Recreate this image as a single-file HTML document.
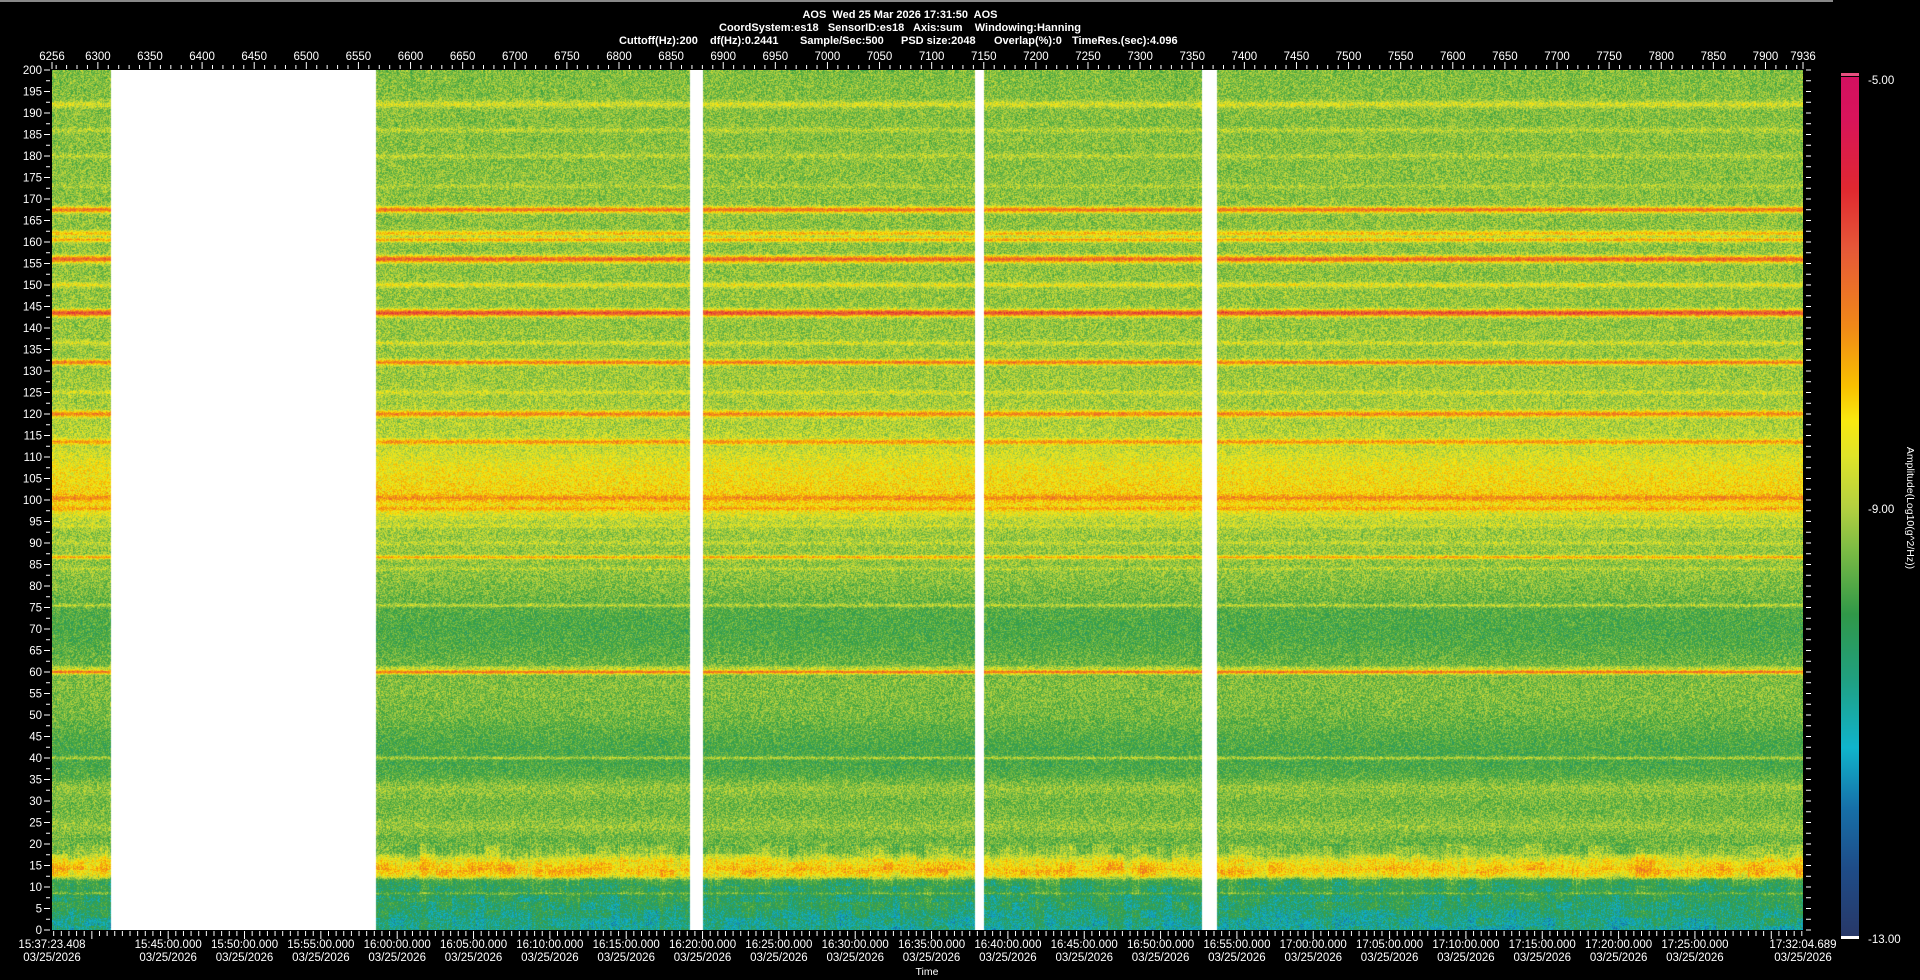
<!DOCTYPE html>
<html><head><meta charset="utf-8">
<style>
html,body{margin:0;padding:0;background:#000;width:1920px;height:980px;overflow:hidden}
#wrap{position:relative;width:1920px;height:980px;background:#000;font-family:"Liberation Sans",Arial,sans-serif}
#spec{position:absolute;left:52px;top:70px}
#ov{position:absolute;left:0;top:0}
#ov text{white-space:pre}
#cbar{position:absolute;left:1841px;top:77px;width:18px;height:860px;
background:linear-gradient(to top,#283868 0%,#1e4c88 8%,#1670a8 15%,#10b4cc 22%,#20a080 30%,#309848 37.5%,#7cbc44 45%,#b4d040 50%,#e0e428 56%,#f8e810 60%,#f8c000 64%,#f08818 71%,#e65838 80%,#e02830 87%,#d8145a 95%,#d41060 100%)}
</style></head>
<body>
<div id="wrap">
<canvas id="spec" width="1751" height="860"></canvas>
<div id="cbar"></div>
<svg id="ov" width="1920" height="980"></svg>
</div>
<script>
// ---- data ----
const freqMin = 0, freqMax = 200;
const idxMin = 6256, idxMax = 7936;
const tStartLabel = "15:37:23.408", tEndLabel = "17:32:04.689";
const tStartSec = 56243.408, tEndSec = 63124.689;
const profileFreqs = [0,3,6,10,11.5,12.5,14,16,18,21,24,27,30,33,36,40,45,50,55,58,62,66,70,74,78,82,88,94,97,100,104,108,112,118,125,135,150,170,185,200];
const profileLevels = [-10.9,-10.7,-10.4,-10.3,-10.0,-8.3,-7.8,-8.3,-9.3,-9.6,-9.2,-9.5,-9.5,-9.2,-9.8,-10.0,-9.8,-9.5,-9.4,-9.4,-9.6,-9.8,-9.9,-9.8,-9.5,-9.3,-9.2,-9.1,-8.5,-8.0,-8.2,-8.4,-8.8,-9.0,-9.1,-9.2,-9.25,-9.3,-9.35,-9.4];
const lineFreqs = [192,186,180,173,167.5,162,160.5,156,150,143.5,136.5,132,125,120,113.5,107,103,100.5,98,94,90,86.7,84,75.5,61,60,40,8.5];
const lineLevels = [-8.6,-8.9,-8.9,-9.0,-7.0,-7.8,-7.6,-6.8,-8.4,-6.5,-8.6,-7.1,-8.6,-7.2,-7.4,-8.3,-8.2,-7.3,-7.6,-8.7,-8.8,-7.6,-8.9,-8.9,-8.9,-7.0,-9.0,-9.6];
const lineWidths = [0.8,0.6,0.6,0.5,0.7,0.6,0.5,0.8,0.6,0.8,0.5,0.6,0.5,0.7,0.6,0.5,0.5,0.6,0.5,0.5,0.4,0.4,0.4,0.4,0.4,0.5,0.4,0.3];
const gapStarts = [6312.6, 6868, 7141.5, 7359.3];
const gapEnds = [6567, 6880.6, 7150, 7373.7];
const yTicks = [0,5,10,15,20,25,30,35,40,45,50,55,60,65,70,75,80,85,90,95,100,105,110,115,120,125,130,135,140,145,150,155,160,165,170,175,180,185,190,195,200];
const topLabels = [6256,6300,6350,6400,6450,6500,6550,6600,6650,6700,6750,6800,6850,6900,6950,7000,7050,7100,7150,7200,7250,7300,7350,7400,7450,7500,7550,7600,7650,7700,7750,7800,7850,7900,7936];
const timeLabels = ["15:45:00.000","15:50:00.000","15:55:00.000","16:00:00.000","16:05:00.000","16:10:00.000","16:15:00.000","16:20:00.000","16:25:00.000","16:30:00.000","16:35:00.000","16:40:00.000","16:45:00.000","16:50:00.000","16:55:00.000","17:00:00.000","17:05:00.000","17:10:00.000","17:15:00.000","17:20:00.000","17:25:00.000"];
const cbarMin = -13, cbarMax = -5;

// ---- axes ----
const PL=52, PR=1803, PT=70, PB=930;
function xIdx(v){return PL+(v-idxMin)/(idxMax-idxMin)*(PR-PL);}
function yF(f){return PB-(f-freqMin)/(freqMax-freqMin)*(PB-PT);}
function xT(s){return PL+(s-tStartSec)/(tEndSec-tStartSec)*(PR-PL);}
function toSec(s){const p=s.split(':');return +p[0]*3600+ +p[1]*60+ +p[2];}

// ---- colormap ----
const cmT=[0,.08,.15,.22,.30,.375,.45,.50,.56,.60,.64,.71,.80,.87,.95,1];
const cmC=[[40,56,104],[30,76,136],[22,112,168],[16,180,204],[36,156,110],[60,160,64],[124,188,68],[180,208,64],[224,228,40],[248,232,16],[248,192,0],[240,136,24],[230,88,56],[224,40,48],[216,20,90],[212,16,96]];
function cmap(v){let t=(v-cbarMin)/(cbarMax-cbarMin);t=Math.max(0,Math.min(1,t));
 let i=0;while(i<cmT.length-2&&t>cmT[i+1])i++;const u=(t-cmT[i])/(cmT[i+1]-cmT[i]);
 const a=cmC[i],b=cmC[i+1];return [a[0]+(b[0]-a[0])*u,a[1]+(b[1]-a[1])*u,a[2]+(b[2]-a[2])*u];}
function interp(f){let i=0;while(i<profileFreqs.length-2&&f>profileFreqs[i+1])i++;
 const u=(f-profileFreqs[i])/(profileFreqs[i+1]-profileFreqs[i]);return profileLevels[i]+(profileLevels[i+1]-profileLevels[i])*Math.max(0,Math.min(1,u));}
function hash(x,y){let h=(x*374761393+y*668265263)|0;h=(h^(h>>>13))*1274126177|0;h=h^(h>>>16);return ((h>>>0)%10000)/10000-0.5;}

// ---- draw heatmap ----
const cv=document.getElementById('spec'),ctx=cv.getContext('2d');
const W=cv.width,H=cv.height,img=ctx.createImageData(W,H),d=img.data;
const rowLvl=new Float32Array(H);
for(let y=0;y<H;y++){
 const f=freqMax-(y+0.5)/H*(freqMax-freqMin);
 let v=interp(f);
 for(let k=0;k<lineFreqs.length;k++){const dd=(f-lineFreqs[k])/lineWidths[k];
  if(Math.abs(dd)<3){const g=Math.exp(-dd*dd);v=Math.max(v,v+(lineLevels[k]-v)*g);}}
 rowLvl[y]=v;}
const colN=new Float32Array(W);
for(let x=0;x<W;x++)colN[x]=hash(x,99991)*0.35+hash(x>>3,777)*0.3;
for(let y=0;y<H;y++){
 const f=freqMax-(y+0.5)/H*(freqMax-freqMin);
 const low=f<20?1:0;
 for(let x=0;x<W;x++){
  const v0=idxMin+(x+0.5)/W*(idxMax-idxMin);
  const o=(y*W+x)*4;
  let gap=false;for(let g=0;g<gapStarts.length;g++)if(v0>=gapStarts[g]&&v0<gapEnds[g])gap=true;
  if(gap){d[o]=d[o+1]=d[o+2]=255;d[o+3]=255;continue;}
  let v=rowLvl[y]+hash(x,y)*1.2+hash(x,y>>2)*0.3;
  if(low)v+=colN[x]*1.3+hash(x>>4,y>>3)*0.6;
  const c=cmap(v);d[o]=c[0];d[o+1]=c[1];d[o+2]=c[2];d[o+3]=255;}}
ctx.putImageData(img,0,0);

// ---- overlay ----
const svg=document.getElementById('ov'),NS='http://www.w3.org/2000/svg';
function el(tag,attrs,txt){const e=document.createElementNS(NS,tag);for(const k in attrs)e.setAttribute(k,attrs[k]);if(txt!==undefined)e.textContent=txt;svg.appendChild(e);return e;}
const tf={fill:'#fff','font-size':'11.5px','font-family':'Liberation Sans, Arial, sans-serif'};
let e;
e=el('line',{x1:0,y1:1,x2:1833,y2:1,stroke:'#888','stroke-width':2});


// header
const hdr=[["AOS  Wed 25 Mar 2026 17:31:50  AOS",900,18],["CoordSystem:es18   SensorID:es18   Axis:sum    Windowing:Hanning",900,31]];
hdr.forEach(h=>{e=el('text',Object.assign({},tf,{x:h[1],y:h[2],'text-anchor':'middle','font-weight':'bold','font-size':'11px'}),h[0]);

});
const l3=[["Cuttoff(Hz):200",619],["df(Hz):0.2441",710],["Sample/Sec:500",800],["PSD size:2048",901],["Overlap(%):0",994],["TimeRes.(sec):4.096",1072]];
l3.forEach(h=>{e=el('text',Object.assign({},tf,{x:h[1],y:44,'font-weight':'bold','font-size':'11px'}),h[0]);

});
// top axis
for(let v=6260;v<=7930;v+=10){const x=xIdx(v);const maj=v%50===0;
 e=el('line',{x1:x,y1:maj?62:65,x2:x,y2:69,stroke:'#fff','stroke-width':1});
 
 }
[idxMin,idxMax].forEach(v=>{e=el('line',{x1:xIdx(v),y1:62,x2:xIdx(v),y2:69,stroke:'#fff'});
 
 });
topLabels.forEach(v=>{e=el('text',Object.assign({},tf,{x:xIdx(v),y:60,'text-anchor':'middle'}),String(v));
 
 });
// y axis
for(let f=0;f<=200;f+=2.5){const y=yF(f);const maj=f%5===0;
 e=el('line',{x1:maj?44:46,y1:y,x2:50,y2:y,stroke:'#fff','stroke-width':1});
 
 
 e=el('line',{x1:1806,y1:y,x2:1811,y2:y,stroke:'#fff','stroke-width':1});
 
 }
yTicks.forEach(f=>{e=el('text',Object.assign({},tf,{x:42,y:yF(f)+4,'text-anchor':'end'}),String(f));
 
 });
// bottom axis
const s0=Math.ceil(tStartSec/30)*30;
for(let s=s0;s<=tEndSec;s+=30){const x=xT(s);const maj=s%300===0;
 e=el('line',{x1:x,y1:931,x2:x,y2:maj?939:936,stroke:'#fff','stroke-width':1});
 
 }
function tlabel(txt,x){
 e=el('text',Object.assign({},tf,{x:x,y:948,'text-anchor':'middle'}),txt);
 
 
 e=el('text',Object.assign({},tf,{x:x,y:961,'text-anchor':'middle'}),'03/25/2026');
 
 }
tlabel(tStartLabel,xT(tStartSec));
timeLabels.forEach(t=>tlabel(t,xT(toSec(t))));
tlabel(tEndLabel,xT(tEndSec));
e=el('text',Object.assign({},tf,{x:927,y:975,'text-anchor':'middle','font-size':'10.5px'}),'Time');


// colorbar
e=el('rect',{x:1841,y:73,width:18,height:3,fill:'#e85080'});


e=el('rect',{x:1841,y:936,width:18,height:3,fill:'#fff'});


[[cbarMax,80],[-9,509],[cbarMin,939]].forEach(p=>{e=el('text',Object.assign({},tf,{x:1868,y:p[1]+4}),p[0].toFixed(2));
 
 });
e=el('text',Object.assign({},tf,{x:1907,y:508,'text-anchor':'middle','font-size':'10.5px',transform:'rotate(90 1907 508)'}),'Amplitude(Log10(g^2/Hz))');


</script>
</body></html>
